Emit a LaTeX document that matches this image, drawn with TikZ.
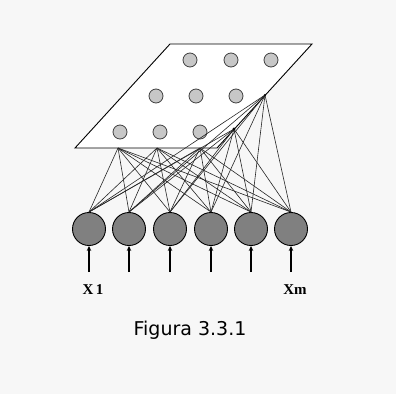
\documentclass[tikz,border=0pt]{standalone}
\usepackage{fontspec}
\usetikzlibrary{arrows.meta}
\setmainfont{Liberation Serif}
\newfontfamily\capfont{DejaVu Sans}
\begin{document}
\begin{tikzpicture}[x=1pt,y=-1pt,
  bigunit/.style={circle,draw=black,line width=0.9pt,fill=black!50,minimum size=33pt,inner sep=0pt},
  smallunit/.style={circle,draw=black!75,line width=0.8pt,fill=black!22,minimum size=14pt,inner sep=0pt},
  link/.style={draw=black!85,line width=0.6pt},
  inarrow/.style={draw=black,line width=1.1pt,-{Stealth[length=5pt,width=4.5pt]}},
  xlabel/.style={font=\fontsize{15}{17}\selectfont\bfseries,inner sep=0pt},
]
\useasboundingbox (0,0) rectangle (396,394);
\fill[black!3] (0,0) rectangle (396,394);
% plane
\coordinate (p1) at (75,148);
\coordinate (p2) at (217,148);
\coordinate (p3) at (312,44);
\coordinate (p4) at (170,44);
\draw[fill=white,line width=0.9pt] (p1) -- (p2) -- (p3) -- (p4) -- cycle;
% output units
\node[smallunit] (o1) at (190,60) {};
\node[smallunit] (o2) at (231,60) {};
\node[smallunit] (o3) at (271,60) {};
\node[smallunit] (o4) at (156,96) {};
\node[smallunit] (o5) at (196,96) {};
\node[smallunit] (o6) at (236,96) {};
\node[smallunit] (o7) at (120,132) {};
\node[smallunit] (o8) at (160,132) {};
\node[smallunit] (o9) at (200,132) {};
% connection points
\coordinate (c1) at (118,148);
\coordinate (c2) at (157,148);
\coordinate (c3) at (200,148);
\coordinate (c4) at (234,129);
\coordinate (c5) at (265,95);
% input units
\foreach \i/\x in {1/89,2/129,3/170,4/211,5/251,6/291}{
  \node[bigunit] (i\i) at (\x,229) {};
  \coordinate (a\i) at (\x,272);
}
\foreach \c in {c1,c2,c3,c4,c5}{
  \foreach \i in {1,...,6}{
    \draw[link] (\c) -- (i\i.north);
  }
}
\fill (c4) circle (1.6pt);
\fill (c5) circle (1.2pt);
\foreach \i in {1,...,6}{
  \draw[inarrow] (a\i) -- (i\i.south);
}
\node[xlabel] (x1) at (93,290) {X\,1};
\node[xlabel] (xm) at (295,290) {Xm};
\node[font=\capfont\fontsize{19}{22}\selectfont,inner sep=0pt] (cap) at (190,330) {Figura 3.3.1};
\end{tikzpicture}
\end{document}
